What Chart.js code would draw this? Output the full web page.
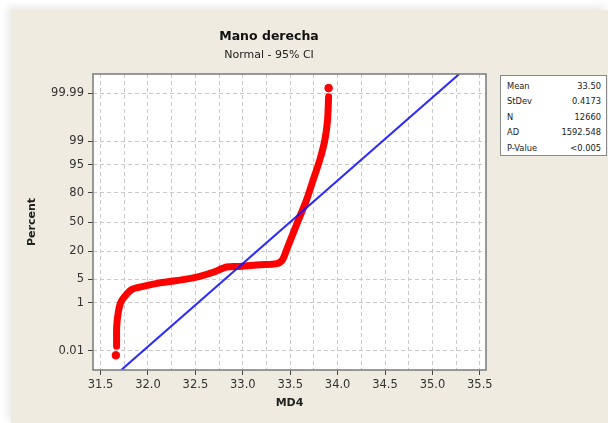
<!DOCTYPE html>
<html>
<head>
<meta charset="utf-8">
<script src="https://cdn.jsdelivr.net/npm/chart.js@4.4.1/dist/chart.umd.min.js"></script>
<style>
	body { margin: 0; background: #ffffff; }
	#wrap { position: relative; width: 608px; height: 423px; overflow: hidden; font-family: 'DejaVu Sans', sans-serif; }
	#panel { position: absolute; left: 11px; top: 10px; right: 0; bottom: 0; background: #efebe1; box-shadow: -3px -3px 8px rgba(120, 120, 140, 0.18); }
	#myChart { position: absolute; left: 0; top: 0; }
	.title { position: absolute; left: 0; width: 538px; text-align: center; color: #111; }
	#t1 { top: 28px; font-size: 12.5px; font-weight: bold; line-height: 16px; }
	#t2 { top: 48px; font-size: 11px; line-height: 13px; color: #222; }
	#stats { position: absolute; left: 500px; top: 75px; width: 105px; height: 79px; border: 1px solid #8a8a8a; background: #fff; font-size: 8.3px; color: #222; }
	#stats div { position: absolute; left: 6px; right: 5px; height: 12px; line-height: 12px; }
	#stats span { float: right; }
</style>
</head>
<body>
<div id="wrap">
	<div id="panel"></div>
	<canvas id="myChart" width="608" height="423"></canvas>
	<div class="title" id="t1">Mano derecha</div>
	<div class="title" id="t2">Normal - 95% CI</div>
	<div id="stats"></div>
</div>
<script>
// values
const redX = [31.669, 31.670, 31.686, 31.711, 31.756, 31.827, 31.950, 32.125, 32.371, 32.547, 32.688, 32.829, 32.969, 33.180, 33.357, 33.420, 33.462, 33.497, 33.602, 33.673, 33.743, 33.813, 33.866, 33.894, 33.905];
const redPct = [0.017, 0.13, 0.44, 0.98, 1.6, 2.55, 3.17, 3.94, 4.82, 5.86, 7.33, 9.73, 10.0, 10.9, 11.5, 13.9, 21.2, 28.8, 56.4, 74.0, 88.9, 96.4, 99.12, 99.84, 99.985];
// min and max observations (drawn as separate dots)
const endX = [31.661, 33.905];
const endPct = [0.006, 99.9944];
// fitted normal line, read at the plot edges
const fitX = [31.72, 35.28];
const fitPct = [0.001, 99.999];

const pctTicks = [0.01, 1, 5, 20, 50, 80, 95, 99, 99.99];
const pctLabels = ['0.01', '1', '5', '20', '50', '80', '95', '99', '99.99'];
const xGrid = [31.5, 31.75, 32.0, 32.25, 32.5, 32.75, 33.0, 33.25, 33.5, 33.75, 34.0, 34.25, 34.5, 34.75, 35.0, 35.25, 35.5];

const statNames = ['Mean', 'StDev', 'N', 'AD', 'P-Value'];
const statValues = ['33.50', '0.4173', '12660', '1592.548', '<0.005'];

//stats box
const statsBox = document.getElementById('stats');
statNames.forEach((name, i) => {
	const row = document.createElement('div');
	row.style.top = (4 + i * 15.4) + 'px';
	row.innerHTML = name + '<span>' + statValues[i].replace('<', '&lt;') + '</span>';
	statsBox.appendChild(row);
});

// percent -> normal score (Acklam inverse normal)
function probit(pct) {
	const p = pct / 100;
	const a = [-3.969683028665376e+01, 2.209460984245205e+02, -2.759285104469687e+02, 1.383577518672690e+02, -3.066479806614716e+01, 2.506628277459239e+00];
	const b = [-5.447609879822406e+01, 1.615858368580409e+02, -1.556989798598866e+02, 6.680131188771972e+01, -1.328068155288572e+01];
	const c = [-7.784894002430293e-03, -3.223964580411365e-01, -2.400758277161838e+00, -2.549732539343734e+00, 4.374664141464968e+00, 2.938163982698783e+00];
	const d = [7.784695709041462e-03, 3.224671290700398e-01, 2.445134137142996e+00, 3.754408661907416e+00];
	const pl = 0.02425;
	let q, r;
	if (p < pl) {
		q = Math.sqrt(-2 * Math.log(p));
		return (((((c[0] * q + c[1]) * q + c[2]) * q + c[3]) * q + c[4]) * q + c[5]) / ((((d[0] * q + d[1]) * q + d[2]) * q + d[3]) * q + 1);
	}
	if (p > 1 - pl) {
		q = Math.sqrt(-2 * Math.log(1 - p));
		return -(((((c[0] * q + c[1]) * q + c[2]) * q + c[3]) * q + c[4]) * q + c[5]) / ((((d[0] * q + d[1]) * q + d[2]) * q + d[3]) * q + 1);
	}
	q = p - 0.5;
	r = q * q;
	return (((((a[0] * r + a[1]) * r + a[2]) * r + a[3]) * r + a[4]) * r + a[5]) * q / (((((b[0] * r + b[1]) * r + b[2]) * r + b[3]) * r + b[4]) * r + 1);
}

const toPoints = (xs, ps) => xs.map((x, i) => ({ x: x, y: probit(ps[i]) }));

// white plot area + frame
const plotFrame = {
	id: 'plotFrame',
	beforeDraw(chart) {
		const { ctx, chartArea: a } = chart;
		ctx.save();
		ctx.fillStyle = '#ffffff';
		ctx.fillRect(a.left, a.top, a.right - a.left, a.bottom - a.top);
		ctx.restore();
	},
	afterDraw(chart) {
		const { ctx, chartArea: a } = chart;
		ctx.save();
		ctx.strokeStyle = '#7a7a7a';
		ctx.lineWidth = 1.5;
		ctx.strokeRect(a.left, a.top, a.right - a.left, a.bottom - a.top);
		ctx.restore();
	}
};

Chart.defaults.font.family = "'DejaVu Sans', sans-serif";
Chart.defaults.font.size = 11.5;
Chart.defaults.color = '#333333';

const ctx = document.getElementById('myChart').getContext('2d');
const myChart = new Chart(ctx, {
	type: 'scatter',
	data: {
		datasets: [
			{
				label: 'Fit',
				data: toPoints(fitX, fitPct),
				showLine: true,
				borderColor: 'rgba(20, 20, 255, 0.9)',
				borderWidth: 2,
				pointRadius: 0
			},
			{
				label: 'MD4',
				data: toPoints(redX, redPct),
				showLine: true,
				borderColor: '#ff0000',
				borderWidth: 7,
				borderJoinStyle: 'round',
				borderCapStyle: 'round',
				tension: 0.3,
				pointRadius: 0
			},
			{
				label: 'MD4 ends',
				data: toPoints(endX, endPct),
				backgroundColor: '#ff0000',
				borderColor: '#ff0000',
				pointRadius: 3.8
			}
		]
	},
	options: {
		responsive: false,
		animation: false,
		events: [],
		layout: { padding: { top: 74, right: 122, left: 0, bottom: 0 } },
		plugins: {
			legend: { display: false },
			tooltip: { enabled: false }
		},
		scales: {
			x: {
				type: 'linear',
				min: 31.42,
				max: 35.565,
				afterBuildTicks: (scale) => {
					scale.ticks = xGrid.map((v) => ({ value: v }));
				},
				afterFit: (scale) => {
					scale.height = 53;
				},
				ticks: {
					autoSkip: false,
					maxRotation: 0,
					padding: 3,
					callback: (v) => (Math.round(v * 4) % 2 === 0 ? v.toFixed(1) : '')
				},
				grid: {
					color: '#c9c9c9',
					lineWidth: 1,
					tickLength: 5,
					tickColor: (c) => (c.tick && Math.round(c.tick.value * 4) % 2 === 0 ? '#444' : 'rgba(0,0,0,0)')
				},
				border: { display: false, dash: [4, 3] },
				title: {
					display: true,
					text: 'MD4',
					color: '#222',
					font: { size: 11, weight: 'bold' },
					padding: { top: 0, bottom: 13 }
				}
			},
			y: {
				type: 'linear',
				min: -4.27,
				max: 4.27,
				afterBuildTicks: (scale) => {
					scale.ticks = pctTicks.map((p) => ({ value: probit(p) }));
				},
				afterFit: (scale) => {
					scale.width = 93;
				},
				ticks: {
					autoSkip: false,
					padding: 4,
					callback: (v, i) => pctLabels[i]
				},
				grid: {
					color: '#c9c9c9',
					lineWidth: 1,
					tickLength: 5,
					tickColor: '#444'
				},
				border: { display: false, dash: [4, 3] },
				title: {
					display: true,
					text: 'Percent',
					color: '#222',
					font: { size: 11, weight: 'bold' },
					padding: { top: 26, bottom: 0 }
				}
			}
		}
	},
	plugins: [plotFrame]
});
</script>
</body>
</html>
